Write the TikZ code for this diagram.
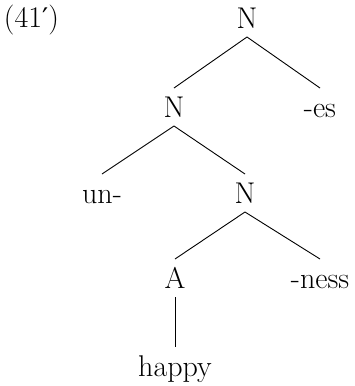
\documentclass[tikz,border=0pt]{standalone}
\usepackage{fontspec}
\newfontfamily\primefont{DejaVu Serif}
\begin{document}
\begin{tikzpicture}[x=1pt,y=-1pt,
  lbl/.style={inner sep=0pt,outer sep=0pt,minimum height=38pt,text height=20.5pt,text depth=0pt,font=\fontsize{30}{36}\selectfont},
  edge/.style={line width=0.9pt}]
\useasboundingbox (0,0) rectangle (355,386);
\node[lbl,anchor=west,minimum height=0pt,text height=22pt,text depth=7pt] (ex) at (4,20) {(41{\primefont\fontsize{27}{30}\selectfont ′})};
\node[lbl] (n1) at (247,18) {N};
\node[lbl] (n2) at (174,107) {N};
\node[lbl] (es) at (320,107) {-es};
\node[lbl] (un) at (102,193) {un-};
\node[lbl] (n3) at (245,193) {N};
\node[lbl] (a) at (175,278) {A};
\node[lbl] (ness) at (320,278) {-ness};
\node[lbl] (hap) at (175,366) {happy};
\draw[edge] (n1.south) -- (n2.north);
\draw[edge] (n1.south) -- (es.north);
\draw[edge] (n2.south) -- (un.north);
\draw[edge] (n2.south) -- (n3.north);
\draw[edge] (n3.south) -- (a.north);
\draw[edge] (n3.south) -- (ness.north);
\draw[edge] (a.south) -- (hap.north);
\end{tikzpicture}
\end{document}
